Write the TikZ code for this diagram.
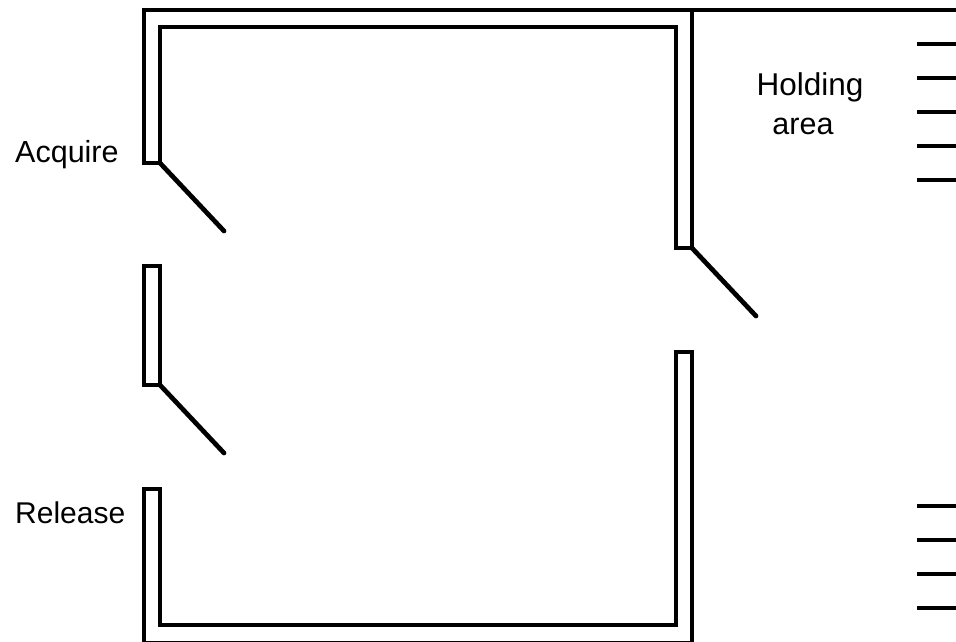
\documentclass[tikz,border=0pt]{standalone}
\usepackage{fontspec}
\setmainfont{Liberation Sans}
\usepackage{tikz}
\tikzset{
  wall/.style={line width=4.7pt,line join=miter},
  door/.style={line width=4.7pt,line cap=round},
  place/.style={line width=4.7pt},
  word/.style={inner sep=0pt,font=\fontsize{#1}{36}\selectfont},
  word/.default=30.5
}

\begin{document}
\begin{tikzpicture}[x=1pt,y=-1pt]
  \useasboundingbox (0,0) rectangle (956,641);
  % outer walls
  \draw[wall] (956,10) -- (144,10) -- (144,163) -- (160,163) -- (160,27) -- (676,27) -- (676,248) -- (692,248) -- (692,10);
  \draw[wall] (144,385) -- (144,266) -- (160,266) -- (160,385) -- cycle;
  \draw[wall] (144,643) -- (144,489) -- (160,489) -- (160,625) -- (676,625) -- (676,352) -- (692,352) -- (692,643) -- cycle;
  % doors
  \draw[door] (160,163) -- (224,231);
  \draw[door] (160,385) -- (224,453);
  \draw[door] (692,248) -- (756,316);
  % waiting places
  \foreach \y in {44,78,112,146,180}{
    \draw[place] (917,\y) -- (956,\y);
  }
  \foreach \y in {506,540,574,608}{
    \draw[place] (917,\y) -- (956,\y);
  }
  \node[word,anchor=base west] (acquire) at (15,162) {Acquire};
  \node[word=30,anchor=base west] (release) at (15,523) {Release};
  \node[word=31.5,anchor=base] (holding) at (810,95) {Holding};
  \node[word,anchor=base] (area) at (803,134) {area};
\end{tikzpicture}
\end{document}
